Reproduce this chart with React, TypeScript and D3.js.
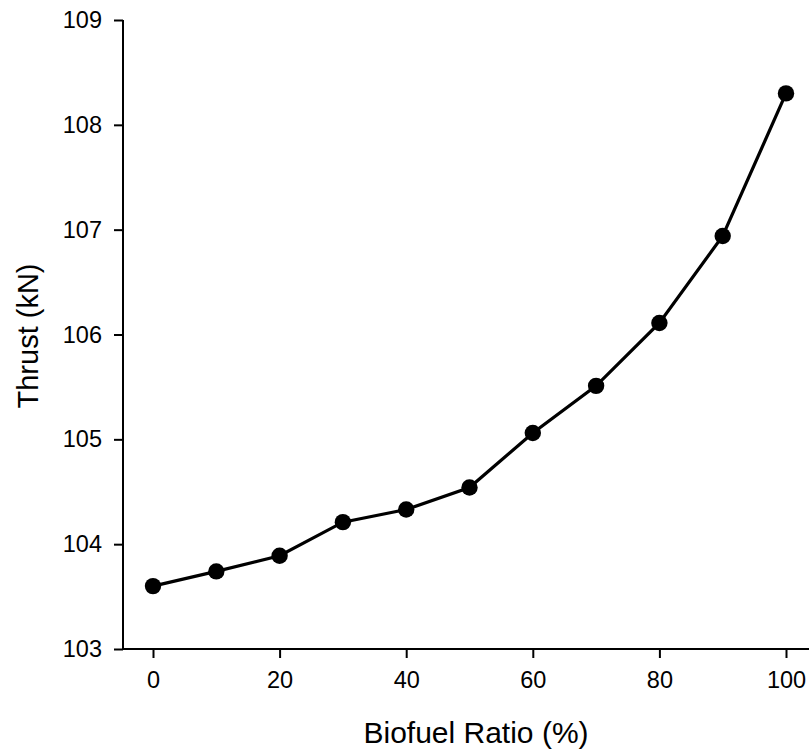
import React, { useRef, useEffect } from 'react';
import * as d3 from 'd3';

// Biofuel ratio (%) vs thrust (kN)
const ratios = [0, 10, 20, 30, 40, 50, 60, 70, 80, 90, 100];
const thrust = [103.6, 103.74, 103.89, 104.21, 104.33, 104.54, 105.06, 105.51, 106.11, 106.94, 108.3];
const xTicks = [0, 20, 40, 60, 80, 100];
const yTicks = [103, 104, 105, 106, 107, 108, 109];

const W = 809;
const H = 751;
const FONT = '"Liberation Sans", Arial, sans-serif';

const App = () => {
  const svgRef = useRef<SVGSVGElement>(null);

  useEffect(() => {
    const svg = d3.select(svgRef.current);
    svg.selectAll('*').remove();

    const axisLeft = 123;
    const axisBottom = 649;

    const x = d3.scaleLinear().domain([0, 100]).range([153, 786]);
    const y = d3.scaleLinear().domain([103, 109]).range([axisBottom, 20]);

    // y axis
    const gy = svg.append('g').attr('transform', `translate(${axisLeft},0)`);
    gy.call(d3.axisLeft(y).tickValues(yTicks).tickSize(9).tickPadding(12).tickSizeOuter(0).tickFormat(d3.format('d')));
    gy.select('.domain').remove();
    gy.append('line')
      .attr('x1', 0).attr('x2', 0)
      .attr('y1', y(109)).attr('y2', axisBottom)
      .attr('stroke', '#000').attr('stroke-width', 2);

    // x axis
    const gx = svg.append('g').attr('transform', `translate(0,${axisBottom})`);
    gx.call(d3.axisBottom(x).tickValues(xTicks).tickSize(9).tickPadding(13).tickSizeOuter(0));
    gx.select('.domain').remove();
    gx.append('line')
      .attr('x1', axisLeft - 1).attr('x2', W)
      .attr('y1', 0).attr('y2', 0)
      .attr('stroke', '#000').attr('stroke-width', 2);

    svg.selectAll('.tick line').attr('stroke', '#000').attr('stroke-width', 2);
    svg.selectAll('.tick text')
      .attr('fill', '#000')
      .style('font-family', FONT)
      .style('font-size', '23.5px');

    // line + markers
    const pts = ratios.map((r, i) => [r, thrust[i]] as [number, number]);
    svg.append('path')
      .datum(pts)
      .attr('fill', 'none')
      .attr('stroke', '#000')
      .attr('stroke-width', 3.2)
      .attr('d', d3.line<[number, number]>().x(d => x(d[0])).y(d => y(d[1])));

    svg.selectAll('circle.pt')
      .data(pts)
      .join('circle')
      .attr('class', 'pt')
      .attr('cx', d => x(d[0]))
      .attr('cy', d => y(d[1]))
      .attr('r', 8.2)
      .attr('fill', '#000');

    // axis titles
    svg.append('text')
      .attr('x', 476)
      .attr('y', 743)
      .attr('text-anchor', 'middle')
      .style('font-family', FONT)
      .style('font-size', '30px')
      .text('Biofuel Ratio (%)');

    svg.append('text')
      .attr('transform', `translate(38,336) rotate(-90)`)
      .attr('text-anchor', 'middle')
      .style('font-family', FONT)
      .style('font-size', '29px')
      .text('Thrust (kN)');
  }, []);

  return (
    <svg
      ref={svgRef}
      width={W}
      height={H}
      style={{ position: 'absolute', left: 0, top: 0, background: '#fff' }}
    />
  );
};

export default App;
